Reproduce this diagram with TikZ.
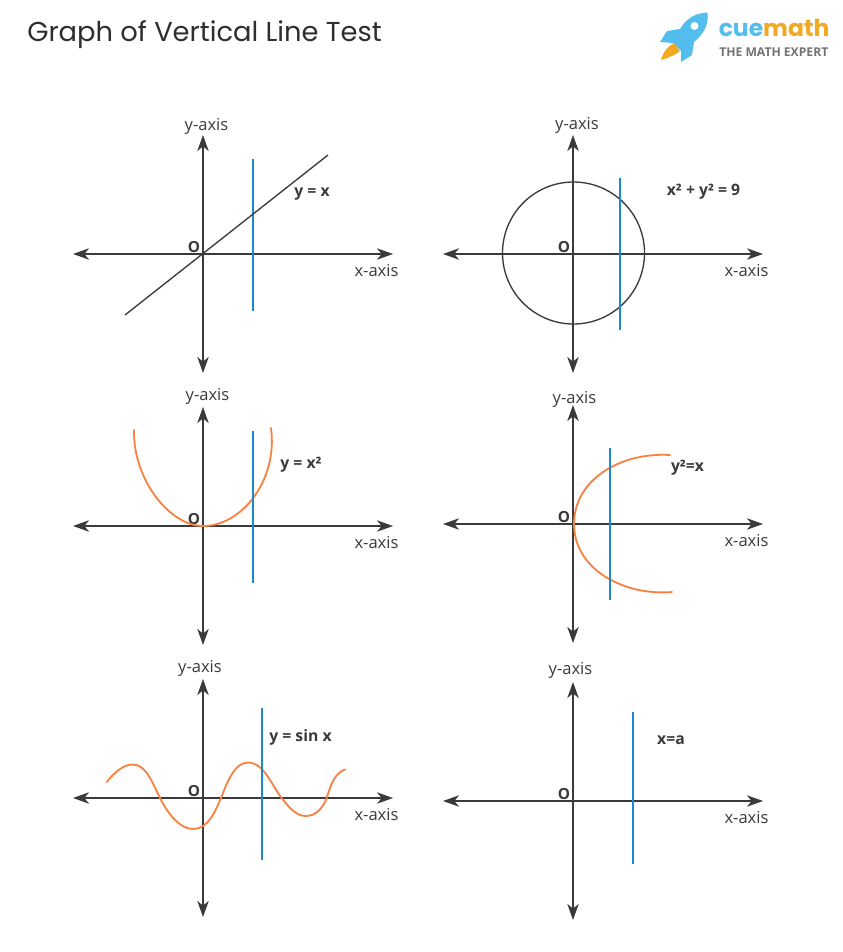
\documentclass[tikz,border=0pt]{standalone}
\usepackage{fontspec}
\setmainfont{Open Sans}
\newfontfamily\titlefont{Poppins}
\usetikzlibrary{arrows.meta}
\definecolor{axisc}{HTML}{3A3A3A}
\definecolor{titlec}{HTML}{2E2E2E}
\definecolor{bluec}{HTML}{1C88D0}
\definecolor{orangec}{HTML}{F9803E}
\definecolor{rocketb}{HTML}{53BDEE}
\definecolor{rocketo}{HTML}{F2A922}
\tikzset{
  axisline/.style={draw=axisc,line width=1.3pt,{Stealth[length=12pt,width=8.5pt,inset=3.5pt]}-{Stealth[length=12pt,width=8.5pt,inset=3.5pt]}},
  testline/.style={draw=bluec,line width=1.2pt},
  curveline/.style={draw=orangec,line width=1.35pt,line cap=round},
  graphline/.style={draw=axisc,line width=1pt},
  axlabel/.style={text=axisc,font=\fontsize{12.4}{14}\selectfont,inner sep=0pt},
  eqlabel/.style={text=axisc,font=\fontsize{11.8}{14}\selectfont\bfseries,inner sep=0pt},
  olabel/.style={text=axisc,font=\fontsize{11.5}{13}\selectfont\bfseries,inner sep=0pt},
}
% panel id, origin x, origin y, y-label x, y-label y, x-label y offset
\newcommand{\axesof}[6]{%
  \coordinate (#1o) at (#2,#3);
  \coordinate (#1l) at (#2-130,#3);
  \coordinate (#1r) at (#2+190,#3);
  \coordinate (#1t) at (#2,#3-119);
  \coordinate (#1b) at (#2,#3+119);
  \draw[axisline] (#1l) -- (#1r);
  \draw[axisline] (#1t) -- (#1b);
  \node[axlabel] (#1ylab) at (#4,#5) {y-axis};
  \node[axlabel] (#1xlab) at (#2+173.5,#3+#6) {x-axis};
  \node[olabel] (#1olab) at (#2-9,#3-7) {O};
}
\newcommand{\testof}[4]{%
  \coordinate (#1p) at (#2,#3);
  \coordinate (#1q) at (#2,#4);
  \draw[testline] (#1p) -- (#1q);
}
\begin{document}
\begin{tikzpicture}[x=0.75pt,y=-0.75pt]
\useasboundingbox (0,0) rectangle (842,952);
\fill[white] (0,0) rectangle (842,952);
\node[anchor=west,inner sep=0pt,text=titlec,font=\titlefont\fontsize{20.5}{24}\selectfont] (title) at (27,35) {Graph of Vertical Line Test};
% logo
\fill[rocketb] (707.5,12.5) .. controls (697,13) and (687,17) .. (680,29)
  -- (667,31) -- (660,42) -- (673,43) -- (681,51) -- (681,62) -- (692,55)
  -- (694,42) .. controls (704,34) and (709,24) .. (707.5,12.5) -- cycle;
\fill[rocketo] (674,43) -- (680,51) .. controls (677,54) and (668,58) .. (661,60) .. controls (663,52) and (668,46) .. (674,43) -- cycle;
\fill[white] (694.5,26) circle (4);
\node[anchor=base west,inner sep=0pt,font=\titlefont\fontsize{17.6}{20}\selectfont\bfseries] (brand) at (718.5,37) {\textcolor{rocketb}{cue}\textcolor{rocketo}{math}};
\node[anchor=base west,inner sep=0pt,text=black!55,font=\fontsize{9.1}{10}\selectfont\bfseries] (slogan) at (719,56.5) {THE MATH EXPERT};
% panel 1
\axesof{a}{203}{254}{206.5}{126.5}{17}
\testof{a}{253}{159}{311}
\coordinate (al1) at (125,315); \coordinate (al2) at (328,155);
\draw[graphline] (al1) -- (al2);
\node[eqlabel] (aeq) at (312,194) {y = x};
% panel 2
\axesof{b}{573}{254}{577}{125.5}{17}
\node[circle,graphline,draw,minimum size=106.5pt,inner sep=0pt] (bc) at (573.5,253) {};
\testof{b}{620}{178}{330}
\node[eqlabel] (beq) at (703.5,192) {x² + y² = 9};
% panel 3
\axesof{c}{203}{526}{207.5}{396}{17}
\coordinate (cs) at (134,430); \coordinate (cm) at (203,526); \coordinate (ce) at (271,428);
\draw[curveline] (cs) .. controls (133,480) and (170,526) .. (cm) .. controls (242,526) and (278,480) .. (ce);
\testof{c}{253}{431}{583}
\node[eqlabel] (ceq) at (301,465) {y = x²};
% panel 4
\axesof{d}{573}{524}{574.5}{399}{17}
\coordinate (ds) at (670,455); \coordinate (dm) at (574,524); \coordinate (de) at (672,592);
\draw[curveline] (ds) .. controls (620,452) and (574,480) .. (dm) .. controls (574,570) and (625,596) .. (de);
\testof{d}{610}{448}{600}
\node[eqlabel] (deq) at (687.5,468) {y²=x};
% panel 5
\axesof{e}{203}{798}{200}{668}{17}
\draw[curveline] (106.7,782) .. controls (114,773) and (123,764.5) .. (132.7,764.5)
  .. controls (146,764.5) and (152,782) .. (160,798)
  .. controls (168,814) and (180,829) .. (193,829)
  .. controls (208,829) and (215,812) .. (221,798)
  .. controls (228,780) and (235,762.5) .. (248,762.5)
  .. controls (264,762.5) and (272,786) .. (281.7,798)
  .. controls (290,809) and (297,816) .. (306,816)
  .. controls (317,816) and (324,806) .. (327,797)
  .. controls (331,784) and (335,773) .. (345,769.5);
\testof{e}{262}{708}{860}
\node[eqlabel] (eeq) at (300.5,737) {y = sin x};
% panel 6
\axesof{f}{573}{801}{570.5}{670.5}{17}
\testof{f}{633}{712}{864}
\node[eqlabel] (feq) at (671,740) {x=a};
\end{tikzpicture}
\end{document}
